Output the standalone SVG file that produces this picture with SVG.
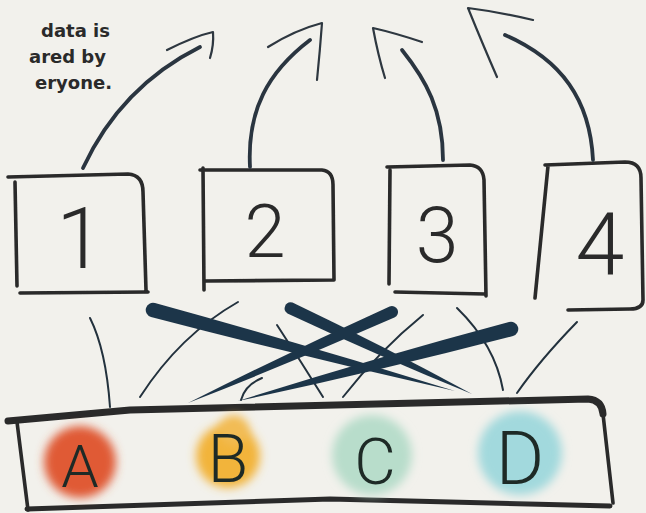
<svg xmlns="http://www.w3.org/2000/svg" width="646" height="513" viewBox="0 0 646 513">
<defs>
<filter id="soft" x="-50%" y="-50%" width="200%" height="200%"><feGaussianBlur stdDeviation="5"/></filter>
<filter id="ink" x="-10%" y="-10%" width="120%" height="120%"><feGaussianBlur stdDeviation="0.6"/></filter>
<style>
.box{fill:none;stroke:#2a2a2a;stroke-width:3.6;stroke-linecap:round;stroke-linejoin:round}
.digit{font-family:Roboto,"Liberation Sans",sans-serif;font-weight:300;fill:#2c2c2c;text-anchor:middle}
.letter{font-family:Roboto,"Liberation Sans",sans-serif;font-weight:300;fill:#1e2a26;text-anchor:middle}
.note{font-family:"DejaVu Sans","Liberation Sans",sans-serif;font-size:18px;font-weight:bold;fill:#2a2a2a;text-anchor:end}
.thin{fill:none;stroke:#24313d;stroke-width:2;stroke-linecap:round}
.shaft{fill:none;stroke:#2b3540;stroke-width:3.8;stroke-linecap:round}
.head{fill:none;stroke:#2e3740;stroke-width:2.2;stroke-linecap:round;stroke-linejoin:round}
.brush{fill:#1f3548}
</style>
</defs>
<rect width="646" height="513" fill="#f2f1ec"/>

<g id="note">
<text class="note" x="110" y="37">data is</text>
<text class="note" x="106" y="63">ared by</text>
<text class="note" x="112" y="89">eryone.</text>
</g>

<g id="node-1" filter="url(#ink)">
<path class="box" d="M8,177 L128,174 Q143,175 143,192 L146,290 M15,182 L17,286 M20,293 L148,292"/>
<text class="digit" x="80" y="268" font-size="86">1</text>
</g>
<g id="node-2" filter="url(#ink)">
<path class="box" d="M200,170 L322,170 Q333,171 333,185 L334,280 M203,168 L204,290 M205,281 L333,280"/>
<text class="digit" x="265" y="257" font-size="74">2</text>
</g>
<g id="node-3" filter="url(#ink)">
<path class="box" d="M387,167 L470,165 Q483,166 484,180 L486,296 M390,170 L389,284 M395,292 L485,294"/>
<text class="digit" x="437" y="262" font-size="77">3</text>
</g>
<g id="node-4" filter="url(#ink)">
<path class="box" d="M545,165 L625,162 Q641,162 641,178 L643,300 Q643,309 630,309 L568,310 M548,166 L535,298"/>
<text class="digit" x="600" y="275" font-size="88">4</text>
</g>

<g id="node-bar">
<path class="box" style="stroke-width:7" d="M8,421 L130,410 L588,399 Q602,400 603,414"/>
<path class="box" d="M603,414 L613,503 M17,422 L28,510"/>
<path class="box" style="stroke-width:5" d="M27,509 L330,499 L610,506"/>
<g id="item-A">
<circle cx="80" cy="462" r="36" fill="#e05a36" filter="url(#soft)"/>
<text class="letter" x="80" y="487" font-size="60">A</text>
</g>
<g id="item-B">
<circle cx="228" cy="456" r="32" fill="#f2b43a" filter="url(#soft)"/>
<circle cx="234" cy="430" r="15" fill="#f2bc55" filter="url(#soft)"/>
<text class="letter" x="228" y="482" font-size="66">B</text>
</g>
<g id="item-C">
<circle cx="372" cy="455" r="40" fill="#b8ddcb" filter="url(#soft)"/>
<text class="letter" x="375" y="484" font-size="64">C</text>
</g>
<g id="item-D">
<circle cx="520" cy="453" r="42" fill="#a2d9dd" filter="url(#soft)"/>
<text class="letter" x="520" y="484" font-size="74">D</text>
</g>
</g>

<g id="connectors" filter="url(#ink)">
<path class="shaft" d="M83,168 C110,110 150,72 200,47"/>
<path class="head" d="M167,50 Q195,36 213,32 Q214,45 210,58"/>
<path class="shaft" d="M250,167 C247,110 268,72 310,40"/>
<path class="head" d="M268,47 Q295,30 322,23 Q320,50 317,80"/>
<path class="shaft" d="M443,160 C443,110 426,80 402,50"/>
<path class="head" d="M422,42 Q395,33 373,28 Q378,55 385,78"/>
<path class="shaft" d="M593,160 C590,100 562,60 505,35"/>
<path class="head" d="M533,20 Q500,12 468,8 Q483,45 497,77"/>

<path class="thin" d="M90,318 Q106,350 110,407"/>
<path class="thin" d="M140,397 Q180,335 238,302"/>
<path class="thin" d="M277,325 Q300,360 323,397"/>
<path class="thin" d="M241,400 Q245,385 262,378"/>
<path class="thin" d="M343,397 Q380,350 423,315"/>
<path class="thin" d="M457,308 Q495,345 503,390"/>
<path class="thin" d="M577,322 Q540,360 517,393"/>

<path class="brush" d="M155,303 Q305.6,344.5 455,391 Q302.4,356.5 151,317 A7,7 0 0 1 155,303 Z"/>
<path class="brush" d="M292.5,302.6 Q383.3,346 472,394 Q378.7,356 287.5,313.4 A6,6 0 0 1 292.5,302.6 Z"/>
<path class="brush" d="M394.4,317.5 Q292,362.5 188,403 Q288,352.5 389.6,306.5 A6,6 0 0 1 394.4,317.5 Z"/>
<path class="brush" d="M513,336 Q376.5,371.5 238,401 Q372.5,358.5 509,322 A7,7 0 0 1 513,336 Z"/>
</g>
</svg>
